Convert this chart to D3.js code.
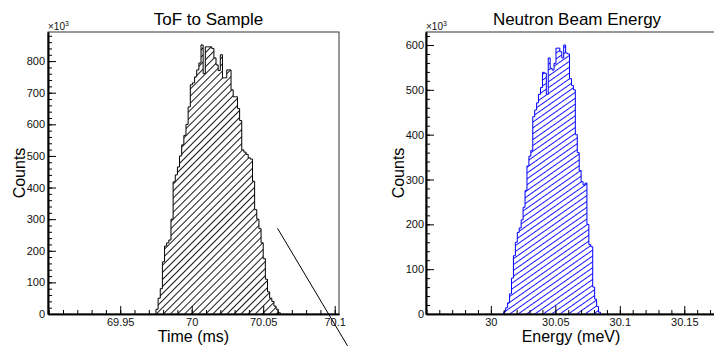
<!DOCTYPE html>
<html>
<head>
<meta charset="utf-8">
<script src="https://cdn.jsdelivr.net/npm/d3@7/dist/d3.min.js"></script>
<style>
  body { margin: 0; background: #fff; }
  svg { display: block; font-family: "Liberation Sans", Arial, Helvetica, sans-serif; }
</style>
</head>
<body>
<div id="main"></div>
<script>
// ToF histogram: counts in units of 10^3, fixed bin width (ms)
const tofStart = 69.975
const tofBinWidth = 0.0015
const tofCounts = [15, 50, 80, 165, 215, 225, 234, 300, 418, 440,
  465, 500, 535, 565, 600, 655, 725, 731, 750, 772,
  794, 851, 760, 845, 845, 845, 840, 810, 788, 770,
  820, 747, 747, 772, 772, 709, 687, 687, 650, 612,
  519, 512, 505, 494, 490, 420, 330, 300, 270, 225,
  175, 110, 70, 50, 40, 25, 15, 4]

// energy histogram: counts in units of 10^3, fixed bin width (meV)
const energyStart = 30.010
const energyBinWidth = 0.0015
const energyCounts = [5, 14, 25, 45, 80, 130, 160, 182, 192, 210,
  238, 275, 330, 352, 365, 440, 455, 471, 490, 505,
  539, 537, 490, 571, 548, 544, 559, 593, 593, 585,
  571, 600, 582, 580, 525, 510, 500, 400, 360, 320,
  295, 288, 292, 200, 155, 150, 60, 33, 17, 4]

const tofDomain = [69.8995, 70.103]
const energyDomain = [29.9497, 30.1746]
const tofYMax = 892
const energyYMax = 629

const tofTicks = [69.95, 70, 70.05, 70.1]
const tofMinor = d3.range(69.9, 70.1001, 0.01)
const energyTicks = [30, 30.05, 30.1, 30.15]
const energyMinor = d3.range(29.95, 30.1701, 0.01)
const tofCountTicks = [0, 100, 200, 300, 400, 500, 600, 700, 800]
const energyCountTicks = [0, 100, 200, 300, 400, 500, 600]

// the straight line drawn over the ToF pad (data coordinates)
const tofGuide = [[70.06, 271], [70.109, -101]]

class HistPanel {
  constructor(svg, config) {
    this.svg = svg
    this.config = config
    this.x = null
    this.y = null
    this.g = this.svg.append("g")
  }

  createScales() {
    const c = this.config
    this.x = d3.scaleLinear().domain(c.xDomain).range([c.left, c.right])
    this.y = d3.scaleLinear().domain([0, c.yMax]).range([c.bottom, c.top])
  }

  createPattern() {
    const c = this.config
    let defs = this.svg.select("defs")
    if (defs.empty()) defs = this.svg.append("defs")
    defs.append("pattern")
      .attr("id", c.id + "-hatch")
      .attr("patternUnits", "userSpaceOnUse")
      .attr("width", c.hatchGap)
      .attr("height", c.hatchGap)
      .attr("patternTransform", `rotate(${-c.hatchAngle})`)
      .append("line")
        .attr("x1", -1).attr("x2", c.hatchGap + 1)
        .attr("y1", c.hatchGap / 2).attr("y2", c.hatchGap / 2)
        .attr("stroke", c.color)
        .attr("stroke-width", 0.9)
  }

  drawHist() {
    const c = this.config
    const n = c.counts.length
    const pts = [[c.start, 0]]
    c.counts.forEach((v, i) => pts.push([c.start + i * c.binWidth, v]))
    pts.push([c.start + n * c.binWidth, c.counts[n - 1]])
    pts.push([c.start + n * c.binWidth, 0])

    const line = d3.line()
      .x(d => this.x(d[0]))
      .y(d => this.y(d[1]))
      .curve(d3.curveStepAfter)

    this.g.append("path")
      .attr("d", line(pts))
      .attr("fill", `url(#${c.id}-hatch)`)
      .attr("stroke", c.color)
      .attr("stroke-width", 1)
  }

  createAxis() {
    const c = this.config

    // frame
    this.g.append("rect")
      .attr("x", c.left).attr("y", c.top)
      .attr("width", c.right - c.left).attr("height", c.bottom - c.top)
      .attr("fill", "none")
      .attr("stroke", "#333")
      .attr("stroke-width", 1)

    const styleAxis = (sel) => {
      sel.select(".domain").attr("stroke", "#000").attr("stroke-width", 1.6)
      sel.selectAll(".tick line").attr("stroke", "#000")
      sel.selectAll(".tick text")
        .attr("fill", "#111")
        .style("font-size", "11px")
        .style("font-family", "'Liberation Sans', Arial, sans-serif")
    }

    const xMinor = d3.axisBottom(this.x).tickValues(c.xMinor).tickSize(-4).tickSizeOuter(0).tickFormat("")
    const xMajor = d3.axisBottom(this.x).tickValues(c.xTicks).tickSize(-8).tickSizeOuter(0)
      .tickPadding(4).tickFormat(d => String(+d.toFixed(2)))
    const yMinor = d3.axisLeft(this.y).tickValues(d3.range(0, c.yMax, 20)).tickSize(-4).tickSizeOuter(0).tickFormat("")
    const yMajor = d3.axisLeft(this.y).tickValues(c.yTicks).tickSize(-8).tickSizeOuter(0)
      .tickPadding(c.yPad)

    this.g.append("g").attr("transform", `translate(0,${c.bottom})`).call(xMinor).call(styleAxis)
    this.g.append("g").attr("transform", `translate(0,${c.bottom})`).call(xMajor).call(styleAxis)
    this.g.append("g").attr("transform", `translate(${c.left},0)`).call(yMinor).call(styleAxis)
    this.g.append("g").attr("transform", `translate(${c.left},0)`).call(yMajor).call(styleAxis)

    // x10^3 multiplier
    const mult = this.g.append("text")
      .attr("x", c.left)
      .attr("y", c.top - 2)
      .style("font-size", "10px")
      .attr("fill", "#111")
    mult.append("tspan").text("\u00d710")
    mult.append("tspan").attr("dy", -4).style("font-size", "7px").text("3")

    // titles
    this.g.append("text")
      .attr("x", c.titleX).attr("y", 25)
      .attr("text-anchor", "middle")
      .style("font-size", "17px")
      .text(c.title)

    this.g.append("text")
      .attr("x", (c.left + c.right) / 2).attr("y", 341.5)
      .attr("text-anchor", "middle")
      .style("font-size", "16px")
      .text(c.xLabel)

    this.g.append("text")
      .attr("transform", `translate(${c.yLabelX},${(c.top + c.bottom) / 2}) rotate(-90)`)
      .attr("text-anchor", "middle")
      .style("font-size", "16px")
      .text("Counts")
  }

  drawGuide(points) {
    const line = d3.line().x(d => this.x(d[0])).y(d => this.y(d[1]))
    this.g.append("path")
      .attr("d", line(points))
      .attr("fill", "none")
      .attr("stroke", "#000")
      .attr("stroke-width", 1)
  }
}

function main() {
  const svg = d3.select("#main")
    .append("svg")
    .attr("width", 714)
    .attr("height", 346)

  const tof = new HistPanel(svg, {
    id: "tof", left: 48, right: 339, top: 32, bottom: 314,
    xDomain: tofDomain, yMax: tofYMax,
    xTicks: tofTicks, xMinor: tofMinor, yTicks: tofCountTicks, yPad: 3,
    start: tofStart, binWidth: tofBinWidth, counts: tofCounts,
    color: "#000", hatchGap: 5, hatchAngle: 45,
    title: "ToF to Sample", titleX: 208.5, xLabel: "Time (ms)", yLabelX: 25
  })
  tof.createScales()
  tof.createPattern()
  tof.drawHist()
  tof.createAxis()
  tof.drawGuide(tofGuide)

  const energy = new HistPanel(svg, {
    id: "energy", left: 426, right: 716, top: 32, bottom: 314,
    xDomain: energyDomain, yMax: energyYMax,
    xTicks: energyTicks, xMinor: energyMinor, yTicks: energyCountTicks, yPad: 2,
    start: energyStart, binWidth: energyBinWidth, counts: energyCounts,
    color: "#0000ff", hatchGap: 4.8, hatchAngle: 35,
    title: "Neutron Beam Energy", titleX: 577, xLabel: "Energy (meV)", yLabelX: 404
  })
  energy.createScales()
  energy.createPattern()
  energy.drawHist()
  energy.createAxis()
}

main()
</script>
</body>
</html>
